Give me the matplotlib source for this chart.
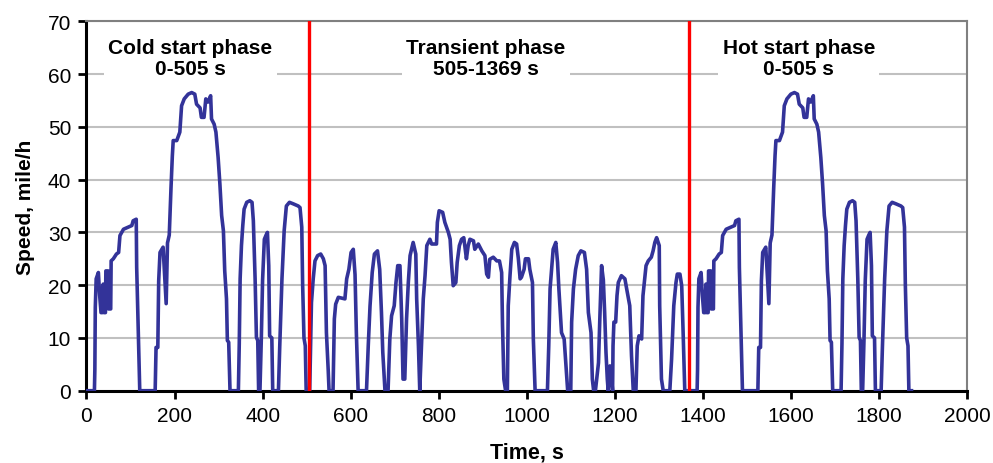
import matplotlib
matplotlib.use('agg')
import matplotlib.pyplot as plt
import numpy as np

# cold start phase, (time s, speed mile/h)
cold_t = [0, 18, 19, 20, 22, 27, 30, 33, 36, 38, 40, 43, 44, 49, 50, 55, 56, 61, 68, 73,
          76, 84, 95, 103, 106, 113, 114, 118, 121, 156, 158, 162, 164, 167, 174, 178, 181,
          184, 188, 192, 195, 197, 205, 212, 216, 222, 231, 239, 246, 250, 258, 261, 267,
          271, 276, 282, 284, 290, 294, 299, 303, 307, 311, 314, 318, 320, 323, 326, 345,
          347, 349, 352, 355, 358, 364, 371, 376, 379, 383, 386, 389, 391, 394, 397, 400,
          404, 408, 411, 414, 416, 421, 423, 436, 439, 444, 449, 454, 461, 470, 481, 485,
          489, 491, 494, 497, 499, 505]
cold_v = [0, 0, 4, 15.8, 21.2, 22.4, 18, 14.8, 14.8, 20.2, 14.8, 14.8, 22.7, 22.7, 15.5, 15.5,
          24.6, 25, 25.9, 26.2, 29.4, 30.6, 31, 31.3, 32.2, 32.5, 23.4, 9.8, 0, 0, 8.2, 8.2,
          20.8, 26.2, 27.2, 21.2, 16.5, 28, 29.5, 38.5, 44.5, 47.4, 47.4, 49, 54, 55.3, 56.2,
          56.5, 56.2, 54.3, 53.6, 51.8, 51.8, 55.3, 54.7, 55.9, 51.5, 50.5, 49, 44.2, 39.2,
          33.2, 30.3, 22.7, 17.4, 9.5, 9.2, 0, 0, 8.8, 21.2, 27.5, 31.3, 34.4, 35.7, 36, 35.7,
          32.2, 21.2, 10.1, 9.5, 0, 0, 9.5, 21, 28.7, 29.5, 30, 23.7, 10.4, 10, 0, 0, 8.5,
          21.2, 30.3, 35, 35.7, 35.4, 35, 34.7, 31, 20, 10, 8.5, 0, 0]

# transient phase
trans_t = [505, 507, 508, 511, 515, 519, 525, 532, 538, 542, 545, 549, 551, 560, 563, 566,
           572, 587, 591, 596, 601, 606, 610, 613, 617, 636, 640, 644, 649, 654, 661, 666,
           670, 673, 678, 685, 689, 693, 699, 703, 707, 712, 716, 719, 723, 727, 731, 735,
           742, 748, 750, 754, 757, 761, 765, 769, 773, 780, 784, 795, 797, 801, 809, 814,
           822, 826, 829, 833, 839, 842, 847, 852, 857, 863, 867, 871, 879, 882, 890, 898,
           905, 909, 913, 916, 924, 932, 938, 943, 945, 948, 952, 956, 958, 962, 966, 972,
           977, 981, 985, 988, 994, 997, 1004, 1007, 1013, 1015, 1019, 1047, 1050, 1053,
           1057, 1060, 1066, 1070, 1073, 1079, 1085, 1087, 1091, 1093, 1100, 1102, 1106,
           1111, 1117, 1123, 1131, 1136, 1140, 1146, 1149, 1152, 1156, 1163, 1166, 1170,
           1174, 1177, 1180, 1183, 1185, 1189, 1193, 1195, 1196, 1198, 1202, 1205, 1208,
           1215, 1223, 1227, 1234, 1238, 1242, 1248, 1251, 1255, 1261, 1264, 1271, 1276,
           1283, 1287, 1291, 1295, 1301, 1302, 1306, 1310, 1325, 1329, 1334, 1339, 1342,
           1348, 1352, 1355, 1359, 1369]
trans_v = [0, 0, 4, 16.7, 21.2, 24.6, 25.6, 25.9, 25, 23.7, 11, 4, 0, 0, 13.6, 16.4, 17.7,
           17.4, 21.2, 23, 26.2, 26.8, 22, 11, 0, 0, 8.5, 16, 22.4, 25.9, 26.5, 23, 14.8, 7.3,
           0, 0, 9.8, 14.2, 16.1, 20.5, 23.7, 23.7, 13.6, 2.2, 2.2, 13.6, 20.5, 25.6, 28.1,
           25.9, 17.4, 8.5, 0, 8.5, 17.4, 21.8, 27.5, 28.7, 27.8, 27.8, 31.9, 34.1, 33.8,
           31.9, 30, 28.7, 24.3, 19.9, 20.5, 24.3, 27.5, 28.7, 29, 25, 27.5, 28.7, 28.4,
           26.8, 27.8, 26.5, 25.6, 22.1, 21.5, 24.9, 25.3, 24.6, 24.6, 22.4, 12.3, 2.2, 0, 0,
           16.1, 21.8, 26.8, 28.1, 27.8, 25, 21.2, 21.5, 23, 25, 25, 23, 20.5, 9.8, 0, 0, 8.5,
           19.3, 23.7, 26.8, 28.1, 24.3, 19.3, 11, 9.8, 7.3, 2.2, 0, 0, 13, 19.3, 23, 25.6,
           26.5, 26.2, 23, 14.8, 11, 2.2, 0, 0, 5.3, 13.6, 23.7, 21, 14.8, 7.3, 2.2, 0, 4.7,
           2.2, 0, 8.5, 13, 13, 18, 20.5, 21.8, 21.2, 19.3, 16.1, 6.6, 0, 0, 8.5, 10.4, 9.8,
           18, 23.7, 24.6, 25.3, 26.5, 28.1, 29, 27.5, 16.1, 2.2, 0, 0, 6, 16.1, 20.5, 22.1,
           22.1, 19.9, 11.7, 0, 0]

# hot start phase repeats the cold start trace, starting at the end of the transient phase
hot_start = 1369

phase_bounds = [505, 1369]
phase_names = ['Cold start phase\n0-505 s', 'Transient phase\n505-1369 s', 'Hot start phase\n0-505 s']
phase_label_t = [236, 907, 1618]

plt.rcParams['font.family'] = ['Liberation Sans', 'DejaVu Sans']

fig = plt.figure(figsize=(9.93, 4.64), dpi=100)
ax = fig.add_axes([0.0871, 0.1558, 0.8867, 0.7961])

t = cold_t + trans_t[1:] + [x + hot_start for x in cold_t[1:]]
v = cold_v + trans_v[1:] + cold_v[1:]
ax.plot(t, v, color='#333399', lw=2.6, zorder=3)

for b in phase_bounds:
    ax.axvline(b, color='#ff0000', lw=2.4, zorder=4)

for name, xt in zip(phase_names, phase_label_t):
    ax.text(xt, 63.0, name, ha='center', va='center', fontsize=15, fontweight='bold',
            linespacing=1.12, zorder=5,
            bbox=dict(facecolor='white', edgecolor='none', pad=3))

ax.set_xlim(0, 2000)
ax.set_ylim(0, 70)
ax.set_xticks(np.arange(0, 2001, 200))
ax.set_yticks(np.arange(0, 71, 10))
ax.yaxis.grid(True, color='#c0c0c0', lw=1.5)
ax.set_axisbelow(True)

for s in ['left', 'bottom']:
    ax.spines[s].set_linewidth(2.2)
    ax.spines[s].set_color('black')
for s in ['top', 'right']:
    ax.spines[s].set_linewidth(1.5)
    ax.spines[s].set_color('#808080')

ax.tick_params(axis='both', labelsize=15, width=2, length=6, direction='out', color='black')
ax.tick_params(axis='x', pad=5)
ax.tick_params(axis='y', pad=5)
ax.tick_params(top=False, right=False)

ax.set_xlabel('Time, s', fontsize=15.5, fontweight='bold', labelpad=12)
ax.set_ylabel('Speed, mile/h', fontsize=15, fontweight='bold', labelpad=9)

plt.savefig('out.png', dpi=100)
plt.close('all')
